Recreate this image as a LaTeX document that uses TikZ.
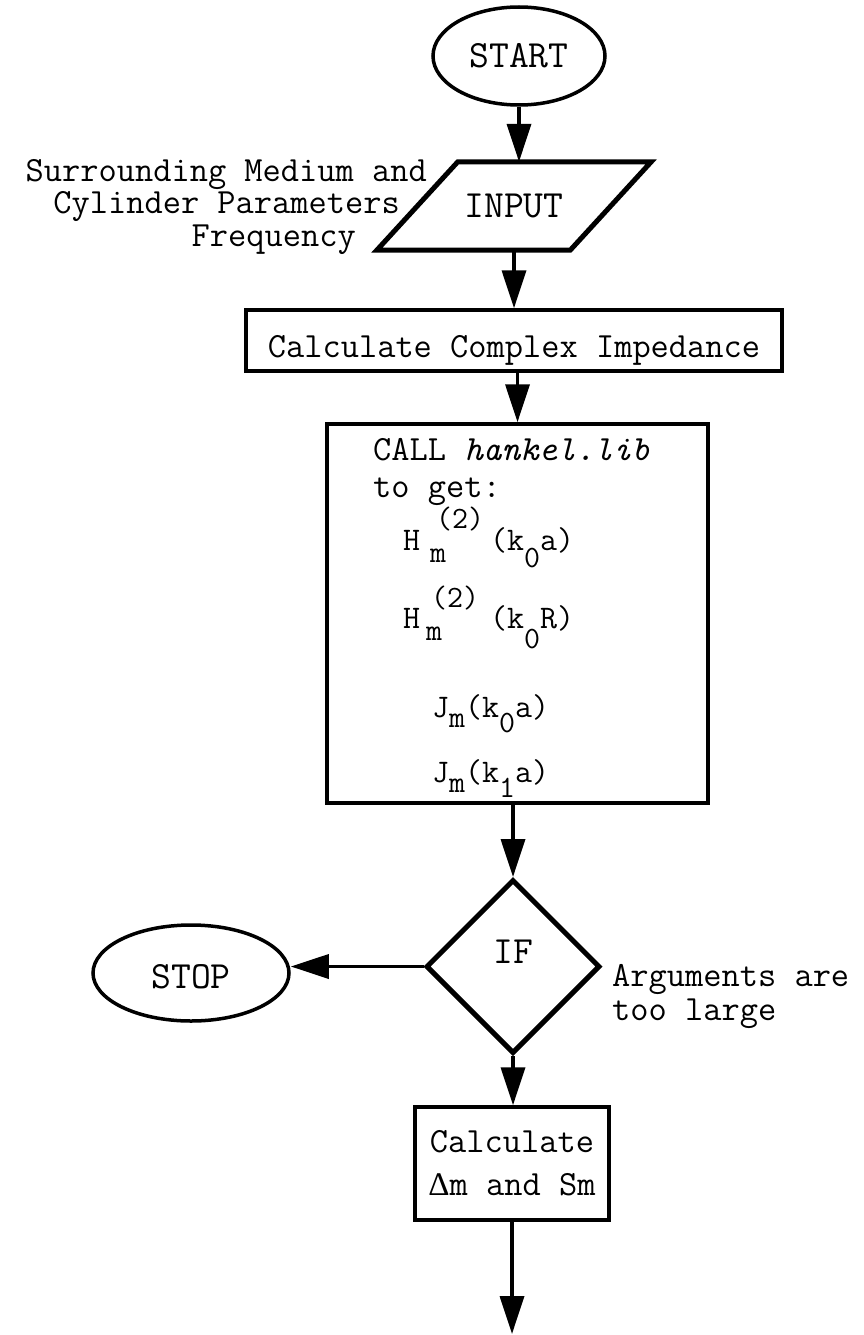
\documentclass[tikz,border=0pt]{standalone}
\usepackage{fontspec}
\newfontfamily\DeltaFont{Liberation Serif}
\usetikzlibrary{arrows.meta,shapes.geometric,calc}
\newcommand\FMain{\ttfamily\fontsize{35.4}{43}\selectfont}
\newcommand\FBig{\ttfamily\fontsize{38.5}{45}\selectfont}
\newcommand\FForm{\ttfamily\fontsize{33}{38}\selectfont}
\newcommand\FSub{\ttfamily\fontsize{31}{36}\selectfont}
\newcommand\LoSub[2]{\raisebox{-#1pt}{\FSub #2}}
\begin{document}
\begin{tikzpicture}[x=1pt,y=-1pt,
  every node/.style={font=\FMain},
  conn/.style={line width=3.5pt,-{Triangle[length=38pt,width=24pt]}},
  boxstyle/.style={draw,line width=3.5pt},
  ovalstyle/.style={ellipse,draw,line width=3.5pt,font=\FBig},
  txt/.style={inner sep=0pt},
  formula/.style={inner sep=0pt,anchor=base west,font=\FForm},
  subtxt/.style={inner sep=0pt,anchor=base west,font=\FSub}]
\useasboundingbox (0,0) rectangle (864,1335);

% START
\node[ovalstyle,minimum width=172,minimum height=98] (start) at (519,56) {START};

% INPUT parallelogram
\node[inner sep=0pt,minimum width=193,minimum height=88,font=\FBig] (input) at (514,206) {INPUT};
\draw[line width=5pt,line join=miter]
  ($(input.north west)+(40.5,0)$) -- ($(input.north east)+(40.5,0)$)
  -- ($(input.south east)+(-40.5,0)$) -- ($(input.south west)+(-40.5,0)$) -- cycle;

\node[txt,anchor=base east] (lab1) at (427,181) {Surrounding Medium and};
\node[txt,anchor=base east] (lab2) at (400,213) {Cylinder Parameters};
\node[txt,anchor=base east] (lab3) at (356,246) {Frequency};

% Complex impedance
\node[boxstyle,minimum width=536,minimum height=61,text height=36,text depth=3] (imp) at (514,340.5) {Calculate Complex Impedance};

% CALL box
\node[boxstyle,minimum width=381,minimum height=379] (call) at (517.5,613.5) {};
\node[txt,anchor=base west] (c1) at (373,460) {CALL \textit{hankel.lib}};
\node[txt,anchor=base west] (c2) at (373,497) {to get:};

% H_m^(2)(k_0 a)
\node[formula] (f1h) at (403,550) {H};
\node[subtxt] (f1m) at (430,562) {m};
\node[subtxt] (f1s) at (436,528) {(2)};
\node[formula] (f1a) at (490,550) {(k\LoSub{17}{0}a)};

% H_m^(2)(k_0 R)
\node[formula] (f2h) at (403,628) {H};
\node[subtxt] (f2m) at (426,640) {m};
\node[subtxt] (f2s) at (431,607) {(2)};
\node[formula] (f2a) at (490,628) {(k\LoSub{20}{0}R)};

% J_m(k_0 a)
\node[formula] (f3) at (432,717) {J\LoSub{10}{m}(k\LoSub{15}{0}a)};
% J_m(k_1 a)
\node[formula] (f4) at (432,782) {J\LoSub{10}{m}(k\LoSub{15}{1}a)};

% IF diamond
\node[diamond,draw,line width=5pt,minimum width=174,minimum height=174,inner sep=0pt,
      text height=0pt,text depth=7pt,font=\FBig] (if) at (513,966.5) {IF};

% STOP
\node[ovalstyle,minimum width=196,minimum height=96,text height=30pt,text depth=0pt] (stop) at (191,973) {STOP};

\node[txt,anchor=base west] (arg1) at (612,986) {Arguments are};
\node[txt,anchor=base west] (arg2) at (612,1020) {too large};

% Calculate Delta m and Sm
\node[boxstyle,minimum width=194,minimum height=113,align=center] (calc) at (512,1163.5) {Calculate\\{\DeltaFont\fontsize{33}{38}\selectfont Δ}m and Sm};

\coordinate (endpt) at (511,1334);

% connectors
\draw[conn] (start.south) -- (start.south |- input.north);
\draw[conn] (input.south) -- (input.south |- imp.north);
\draw[conn] (call.north |- imp.south) -- (call.north);
\draw[conn] (if.north |- call.south) -- (if.north);
\draw[conn] (if.west) -- (if.west -| stop.east);
\draw[conn] (if.south) -- (if.south |- calc.north);
\draw[conn] (calc.south) -- (calc.south |- endpt);
\end{tikzpicture}
\end{document}
